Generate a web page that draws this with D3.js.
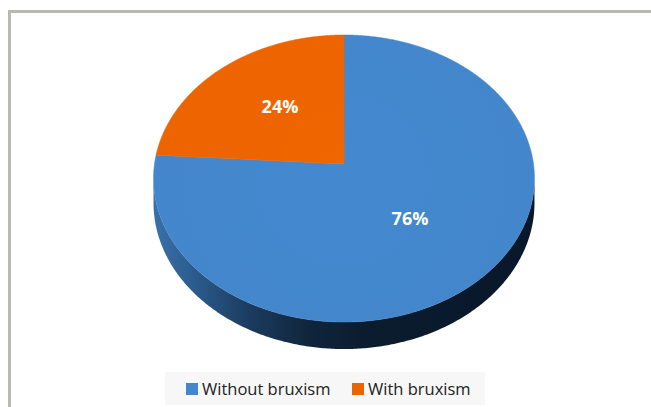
<!DOCTYPE html>
<html>
<head>
<meta charset="utf-8">
<script src="https://cdn.jsdelivr.net/npm/d3@7"></script>
<style>
  html, body { margin: 0; padding: 0; background: #ffffff; }
  svg { display: block; }
</style>
</head>
<body>
<svg id="chart" width="651" height="407"></svg>
<script>
// ---- data ----
const categories = ["Without bruxism", "With bruxism"];
const values = [76, 24];
const labels = ["76%", "24%"];
const colors = ["#4386cb", "#ec6400"];

// ---- geometry (perspective-projected 3D pie) ----
const W = 651, H = 407;
const cx = 344;        // horizontal centre
const cyC = 164;       // projected centre of the disc
const B = 125.5;       // vertical half-extent factor
const C = 189.5;       // horizontal radius factor
const k = -0.101;      // perspective factor (near side larger)
const depth = 24.3;    // extrusion thickness

function proj(theta, drop) {
  const u = Math.sin(theta), v = -Math.cos(theta);
  const d = 1 + k * v;
  return [cx + C * u / d, (cyC + B * v) / d + (drop ? depth / d : 0)];
}

const svg = d3.select("#chart");
const defs = svg.append("defs");

// side gradient (dark shading of the extruded rim)
const sg = defs.append("linearGradient").attr("id", "sideGrad")
  .attr("gradientUnits", "userSpaceOnUse")
  .attr("x1", 153).attr("x2", 535).attr("y1", 0).attr("y2", 0);
[[0, "#3a71ab"], [0.1, "#2c5d8f"], [0.25, "#1b3c60"], [0.4, "#10263d"],
 [0.55, "#0b1c2e"], [1, "#08182a"]].forEach(([o, c]) =>
  sg.append("stop").attr("offset", o).attr("stop-color", c));

// top face subtle radial highlight
colors.forEach((c, i) => {
  const rg = defs.append("radialGradient").attr("id", "top" + i)
    .attr("gradientUnits", "userSpaceOnUse")
    .attr("cx", cx).attr("cy", 178).attr("r", 200);
  rg.append("stop").attr("offset", 0).attr("stop-color", d3.color(c).brighter(0.05));
  rg.append("stop").attr("offset", 1).attr("stop-color", c);
});

// outer frame
svg.append("rect")
  .attr("x", 9.5).attr("y", 11.5).attr("width", 700).attr("height", 420)
  .attr("fill", "none").attr("stroke", "#b9b9b4").attr("stroke-width", 3);

const pie = d3.pie().sort(null).startAngle(0).endAngle(2 * Math.PI);
const arcs = pie(values);

const line = d3.line();
function sample(a0, a1, drop) {
  const n = Math.max(2, Math.ceil(Math.abs(a1 - a0) / 0.01));
  return d3.range(n + 1).map(i => proj(a0 + (a1 - a0) * i / n, drop));
}

// visible rim range
const thExt = Math.acos(k);               // right extreme
const tA = thExt, tB = 2 * Math.PI - thExt; // left extreme

arcs.forEach((a, i) => {
  const s = Math.max(a.startAngle, tA), e = Math.min(a.endAngle, tB);
  if (e > s) {
    const pts = sample(s, e, false).concat(sample(e, s, true));
    svg.append("path").attr("d", line(pts) + "Z")
      .attr("fill", "url(#sideGrad)");
  }
});

// top faces
arcs.forEach((a, i) => {
  const pts = [[cx, cyC]].concat(sample(a.startAngle, a.endAngle, false));
  svg.append("path").attr("d", line(pts) + "Z")
    .attr("fill", `url(#top${i})`)
    .attr("stroke", `url(#top${i})`).attr("stroke-width", 0.5);
});

// percentage labels
const labelPos = [[410, 225], [280, 113]];
arcs.forEach((a, i) => {
  svg.append("text")
    .attr("x", labelPos[i][0]).attr("y", labelPos[i][1])
    .attr("text-anchor", "middle")
    .attr("font-family", "'Open Sans', 'Noto Sans', sans-serif")
    .attr("font-weight", "bold").attr("font-size", 18)
    .attr("fill", "#ffffff")
    .text(labels[i]);
});

// legend
const lg = svg.append("g");
lg.append("rect").attr("x", 165).attr("y", 372).attr("width", 320).attr("height", 33)
  .attr("fill", "#f7f7f7");
const legendX = [186, 352];
categories.forEach((c, i) => {
  lg.append("rect").attr("x", legendX[i]).attr("y", 383).attr("width", 12).attr("height", 12)
    .attr("fill", colors[i]);
  lg.append("text").attr("x", legendX[i] + 16).attr("y", 395)
    .attr("font-family", "'Open Sans', 'Noto Sans', sans-serif")
    .attr("font-size", 16.5).attr("fill", "#222222")
    .text(c);
});
</script>
</body>
</html>
